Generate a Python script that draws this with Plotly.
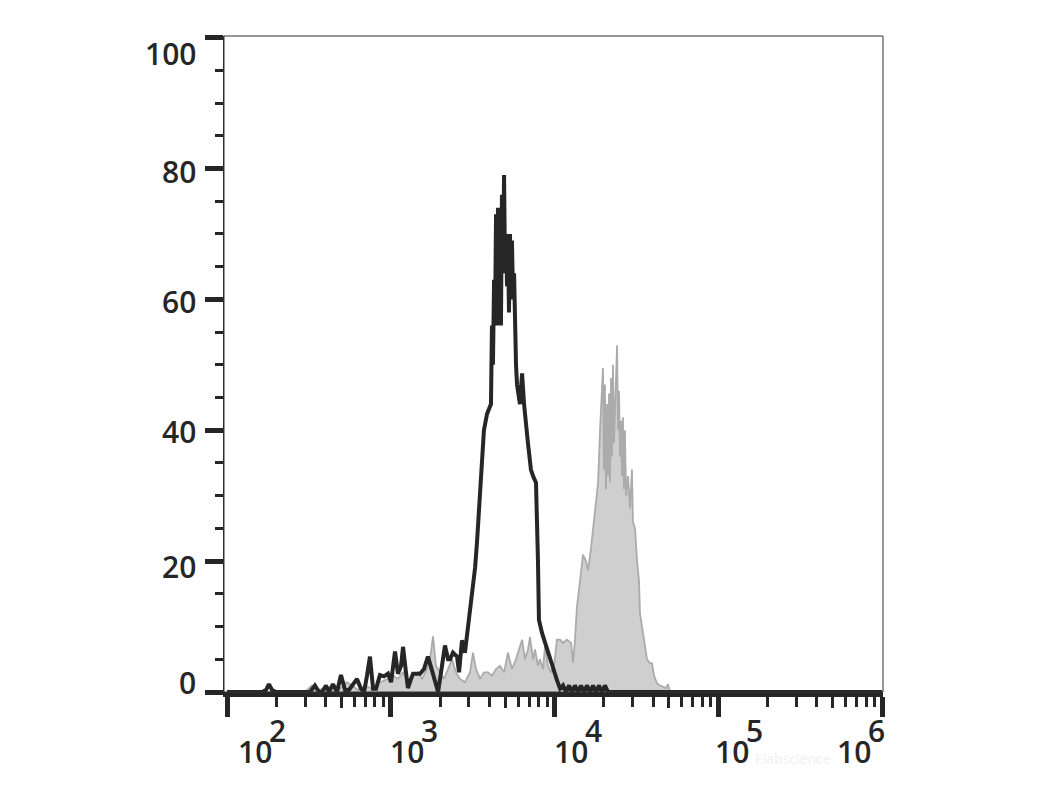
import numpy as np
import plotly.graph_objects as go

# ---- data (x in log10 fluorescence intensity, y in % of max / counts) ----
black_log = [2.000, 2.214, 2.238, 2.256, 2.275, 2.299, 2.507, 2.537, 2.562, 2.580,
             2.605, 2.623, 2.647, 2.672, 2.696, 2.721, 2.745, 2.769, 2.794, 2.818,
             2.837, 2.855, 2.873, 2.892, 2.910, 2.934, 2.959, 2.983, 3.002, 3.026,
             3.044, 3.063, 3.075, 3.093, 3.105, 3.124, 3.136, 3.160, 3.179, 3.203,
             3.227, 3.246, 3.258, 3.276, 3.289, 3.307, 3.331, 3.350, 3.362, 3.380,
             3.405, 3.417, 3.435, 3.453, 3.472, 3.496, 3.515, 3.527, 3.545, 3.569,
             3.588, 3.612, 3.618, 3.624, 3.631, 3.637, 3.643, 3.649, 3.655, 3.661,
             3.667, 3.673, 3.679, 3.686, 3.692, 3.698, 3.704, 3.710, 3.716, 3.722,
             3.728, 3.734, 3.740, 3.747, 3.753, 3.759, 3.765, 3.771, 3.789, 3.802,
             3.814, 3.838, 3.856, 3.869, 3.887, 3.899, 3.905, 3.924, 3.948, 3.973,
             3.997, 4.015, 4.034, 4.052, 4.070, 4.089, 4.107, 4.125, 4.144, 4.162,
             4.180, 4.198, 4.217, 4.235, 4.253, 4.272, 4.290, 4.308, 4.327, 6.000]
black_val = [0, 0, 0.3, 1.2, 0.3, 0, 0, 1, 0, 0,
             1, 0, 1.2, 0, 2.6, 0.3, 0.3, 1.2, 2, 0.5,
             0, 2.5, 5.4, 0.5, 0.5, 2.6, 2.4, 2.8, 1.5, 6.2,
             2.8, 4, 6.9, 3, 0.6, 2, 2.8, 2.8, 2.8, 3.5,
             5.4, 3.8, 2.8, 1, 0, 3, 7.1, 5, 5, 6,
             5.4, 3, 7.9, 6, 10, 15, 19, 23, 30, 40,
             42.5, 44, 56, 50, 63, 57, 73, 56, 74, 58,
             72, 56, 76, 66, 79, 64, 70, 62, 68, 58,
             70, 62, 69, 60, 64, 55, 50, 47, 44, 48.7,
             44, 38, 34, 33, 32, 20, 11, 9, 7, 5,
             3, 1.8, 0.5, 1, 0, 1, 0, 1, 0, 1,
             0, 1, 0, 1, 0, 1, 0, 1, 0, 0]

gray_log = [2.000, 2.476, 2.519, 2.556, 2.586, 2.629, 2.690, 2.733, 2.763, 2.800,
            2.843, 2.885, 2.934, 2.983, 3.014, 3.044, 3.075, 3.105, 3.136, 3.166,
            3.191, 3.221, 3.240, 3.258, 3.276, 3.301, 3.325, 3.350, 3.374, 3.398,
            3.423, 3.453, 3.484, 3.502, 3.521, 3.545, 3.569, 3.594, 3.618, 3.643,
            3.667, 3.692, 3.716, 3.740, 3.765, 3.783, 3.802, 3.820, 3.838, 3.850,
            3.869, 3.881, 3.899, 3.911, 3.930, 3.942, 3.960, 3.979, 3.997, 4.015,
            4.034, 4.052, 4.076, 4.101, 4.113, 4.125, 4.137, 4.156, 4.174, 4.192,
            4.205, 4.223, 4.235, 4.253, 4.266, 4.278, 4.290, 4.296, 4.302, 4.308,
            4.314, 4.321, 4.327, 4.333, 4.339, 4.345, 4.351, 4.357, 4.363, 4.376,
            4.382, 4.388, 4.394, 4.400, 4.406, 4.412, 4.418, 4.424, 4.430, 4.437,
            4.449, 4.461, 4.473, 4.479, 4.492, 4.504, 4.516, 4.522, 4.534, 4.540,
            4.553, 4.565, 4.583, 4.595, 4.608, 4.626, 4.644, 4.663, 4.681, 4.693,
            4.705, 6.000]
gray_val = [0, 0, 1, 0.3, 0.5, 0, 0.5, 1.5, 1, 0.3,
            1, 0.5, 1.5, 2, 2.5, 2, 3, 1.5, 2.5, 3,
            2, 3.5, 5, 8.5, 4, 3, 2, 3.5, 5, 3,
            2, 1.5, 3, 6, 3.5, 2, 3, 3, 2.5, 3.5,
            4, 3, 6, 3.5, 5, 6.5, 8, 5, 6.5, 8.4,
            5, 6.5, 4, 5, 3.5, 7, 4, 3, 4, 8,
            8, 7.5, 8, 7.5, 4.5, 8, 13, 17, 21, 20,
            18.6, 22, 24.7, 29, 32, 40, 46, 49.5, 34, 47,
            31, 44, 33, 45.6, 32, 48, 36, 50, 38, 51,
            53, 40, 46, 36, 41.5, 33, 42, 31, 40, 30,
            33, 28, 34, 26, 25, 20, 17, 12, 10, 9.5,
            7, 5, 4.4, 4.4, 2.5, 1.3, 1, 0.8, 0.6, 1.2,
            0, 0]

x_major = [1e2, 1e3, 1e4, 1e5, 1e6]
x_exponents = ["2", "3", "4", "5", "6"]
x_mid = [5e2, 5e3, 5e4, 5e5]
y_major = [0, 20, 40, 60, 80, 100]
y_labels = ["0", "20", "40", "60", "80", "100"]

# ---- styles ----
INK = "#262626"
FONT = "Open Sans"
FS = 30
FW = 600
x_label_shift = [9, -3, -3, -5, -47]      # horizontal offsets of the "10" labels (px)
y_label_shift = [10, -5, -1, -2, -3, -16] # vertical offsets of y labels (px)

XR = [1.9817, 6.006]
YR = [0, 100.25]

fig = go.Figure()
fig.add_trace(go.Scatter(
    x=10 ** np.array(gray_log), y=gray_val, mode="lines",
    line=dict(color="#ababab", width=1.8), fill="tozeroy", fillcolor="#cfcfcf",
    hoverinfo="skip", showlegend=False))
fig.add_trace(go.Scatter(
    x=10 ** np.array(black_log), y=black_val, mode="lines",
    line=dict(color=INK, width=4), hoverinfo="skip", showlegend=False))
# helper (empty) trace so the overlay axis with the mid-decade ticks is drawn
fig.add_trace(go.Scatter(x=[], y=[], xaxis="x2", showlegend=False, hoverinfo="skip"))

font = dict(family=FONT, size=FS, color=INK, weight=FW)
annotations = []
for v, e, dx in zip(x_major, x_exponents, x_label_shift):
    annotations.append(dict(x=np.log10(v), xref="x", y=0, yref="paper", text="10",
                            xanchor="left", yanchor="middle", xshift=dx, yshift=-59,
                            showarrow=False, font=font))
    annotations.append(dict(x=np.log10(v), xref="x", y=0, yref="paper", text=e,
                            xanchor="left", yanchor="middle", xshift=dx + 31, yshift=-38,
                            showarrow=False, font=font))
for v, t, dy in zip(y_major, y_labels, y_label_shift):
    annotations.append(dict(x=0, xref="paper", y=v, yref="y", text=t,
                            xanchor="right", yanchor="middle", xshift=-26, yshift=dy,
                            showarrow=False, font=font))
annotations.append(dict(x=1, xref="paper", y=0, yref="paper", text="Elabscience",
                        xanchor="right", yanchor="middle", xshift=-50, yshift=-66,
                        showarrow=False,
                        font=dict(family=FONT, size=14, color="#f0f0f0")))

# page body has an 8 px default margin, so the figure is offset by 8 px
fig.update_layout(
    width=1043, height=780,
    margin=dict(l=216, r=168, t=28, b=96),
    paper_bgcolor="white", plot_bgcolor="white",
    xaxis=dict(type="log", range=XR, showgrid=False, zeroline=False,
               showline=True, linewidth=5, linecolor=INK,
               ticks="outside", tickmode="array", tickvals=x_major,
               ticklen=20, tickwidth=5, tickcolor=INK, showticklabels=False,
               minor=dict(dtick="D1", ticks="outside", ticklen=10, tickwidth=3,
                          tickcolor=INK, showgrid=False)),
    xaxis2=dict(type="log", range=XR, overlaying="x", anchor="y", side="bottom",
                showgrid=False, zeroline=False, showline=False,
                ticks="outside", tickmode="array", tickvals=x_mid,
                ticklen=15, tickwidth=3, tickcolor=INK, showticklabels=False),
    yaxis=dict(range=YR, showgrid=False, zeroline=False,
               showline=True, linewidth=1.2, linecolor=INK,
               ticks="outside", tickmode="array", tickvals=y_major,
               ticklen=18, tickwidth=4.5, tickcolor=INK, showticklabels=False,
               minor=dict(dtick=5, tick0=0, ticks="outside", ticklen=8, tickwidth=3,
                          tickcolor=INK, showgrid=False)),
    shapes=[dict(type="rect", xref="paper", yref="paper", x0=0, x1=1, y0=0, y1=1,
                 line=dict(color="#333333", width=1), layer="above")],
    annotations=annotations,
)

fig.write_html("out.html")
